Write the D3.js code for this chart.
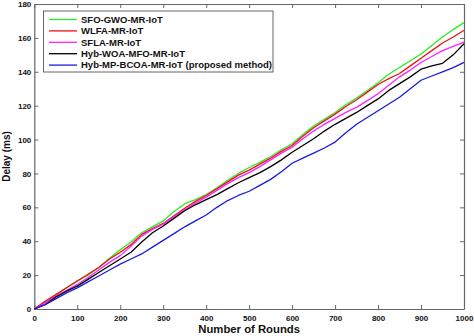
<!DOCTYPE html>
<html>
<head>
<meta charset="utf-8">
<script src="https://cdn.jsdelivr.net/npm/d3@7/dist/d3.min.js"></script>
<style>
  html, body { margin: 0; padding: 0; background: #fff; }
  svg { display: block; font-family: "Liberation Sans", Arial, sans-serif; }
</style>
</head>
<body>
<svg id="chart" width="474" height="336"></svg>
<script>
// ---- Data ----
const rounds = [0,25,50,75,100,125,150,175,200,225,250,275,300,325,350,375,400,425,450,475,500,
                525,550,575,600,625,650,675,700,725,750,775,800,825,850,875,900,925,950,975,1000];

const seriesNames = ["SFO-GWO-MR-IoT", "WLFA-MR-IoT", "SFLA-MR-IoT", "Hyb-WOA-MFO-MR-IoT", "Hyb-MP-BCOA-MR-IoT (proposed method)"];

const sfoGwo = [0,4,8,12.5,16.5,20,24.5,30,35,39.5,45,48.5,52,57.5,62,64.5,67.5,71.5,76,80,83.5,
                86.5,90,94,97.5,103,108,112,116,120.5,124.5,129,133.5,138.5,142.5,146.5,150.5,155.5,160.5,165,169];
const wlfa   = [0,4.5,8.5,12.5,16.5,20.5,24.5,29.5,33.5,38,44,47.5,50.5,55,59.5,63.5,67,71,75,79,82,
                85.5,89,93,96.5,102,107,111,115,119.5,123.5,128,132.5,136,139,143.5,148,152.5,157,160.5,164.5];
const sfla   = [0,3.5,7.5,11,14.5,18.5,23,27.5,31.5,37,43,47,50,54.5,58.5,62.5,66,70,74,77.5,80.5,
                84,88,92,95.5,100.5,105,109,112.5,116,119,123,127,132,137,141,145.5,149,152.5,155,157.5];
const hybWoa = [0,2.5,7,10.5,13.5,17.5,21.5,25.5,29.5,33.5,39.5,45,49,53.5,58,61.5,64.5,67.5,71,74.5,77.5,
                80.5,84,88,92.5,96.5,100.5,105,109,112.5,116,120,124,129,133,137,141.5,143.5,145,150,156.5];
const hybMp  = [0,2.5,6,9.5,12.5,16,19.5,23,26.5,29.5,32.5,36.5,40.5,44.5,48.5,52,55.5,60,64,67,69.5,
                73,76.5,81,86,89,92,95,98.5,104,109,113,117,121,125,130,135,137.5,140,142.5,145.5];

const xTicks = [0,100,200,300,400,500,600,700,800,900,1000];
const yTicks = [0,20,40,60,80,100,120,140,160,180];

const seriesValues = [sfoGwo, wlfa, sfla, hybWoa, hybMp];
const seriesColors = ["#22ee22", "#ee1111", "#ff22ff", "#000000", "#1a1adf"];

// ---- Layout ----
const W = 474, H = 336;
const margin = { left: 34.3, right: 10, top: 4, bottom: 27 };
const svg = d3.select("#chart");
const iw = W - margin.left - margin.right;
const ih = H - margin.top - margin.bottom;

const x = d3.scaleLinear().domain([0, 1000]).range([margin.left, margin.left + iw]);
const y = d3.scaleLinear().domain([0, 180]).range([margin.top + ih, margin.top]);

const frameColor = "#666";
const fmt = d3.format("d");

// axes
const gx = svg.append("g").attr("transform", `translate(0,${margin.top + ih})`)
  .call(d3.axisBottom(x).tickValues(xTicks).tickFormat(fmt).tickSizeInner(-4).tickSizeOuter(0).tickPadding(6));
const gy = svg.append("g").attr("transform", `translate(${margin.left},0)`)
  .call(d3.axisLeft(y).tickValues(yTicks).tickFormat(fmt).tickSizeInner(-4).tickSizeOuter(0).tickPadding(3));
const gt = svg.append("g").attr("transform", `translate(0,${margin.top})`)
  .call(d3.axisTop(x).tickValues(xTicks).tickSizeInner(-4).tickSizeOuter(0).tickFormat(""));
const gr = svg.append("g").attr("transform", `translate(${margin.left + iw},0)`)
  .call(d3.axisRight(y).tickValues(yTicks).tickSizeInner(-4).tickSizeOuter(0).tickFormat(""));

[gx, gy, gt, gr].forEach(g => {
  g.select(".domain").attr("stroke", frameColor).attr("stroke-width", 1.2);
  g.selectAll(".tick line").attr("stroke", frameColor).attr("stroke-width", 1);
  g.selectAll(".tick text").attr("fill", "#111").attr("font-size", "8px").attr("font-weight", "bold");
});

// lines
const line = d3.line().x((d, i) => x(rounds[i])).y(d => y(d));
seriesValues.forEach((vals, k) => {
  svg.append("path")
    .datum(vals)
    .attr("fill", "none")
    .attr("stroke", seriesColors[k])
    .attr("stroke-width", 1.3)
    .attr("stroke-linejoin", "round")
    .attr("d", line);
});

// axis titles
svg.append("text")
  .attr("x", margin.left + iw / 2).attr("y", 333)
  .attr("text-anchor", "middle")
  .attr("font-size", "11.3px").attr("font-weight", "bold").attr("fill", "#111")
  .text("Number of Rounds");
svg.append("text")
  .attr("transform", `translate(10,${margin.top + ih / 2}) rotate(-90)`)
  .attr("text-anchor", "middle")
  .attr("font-size", "10px").attr("font-weight", "bold").attr("fill", "#111")
  .text("Delay (ms)");

// legend
const lg = svg.append("g");
lg.append("rect")
  .attr("x", 43.5).attr("y", 11).attr("width", 229.5).attr("height", 61)
  .attr("fill", "#fff").attr("stroke", frameColor).attr("stroke-width", 1);
seriesNames.forEach((name, k) => {
  const cy = 19.5 + k * 11.4;
  lg.append("line")
    .attr("x1", 49).attr("x2", 77).attr("y1", cy).attr("y2", cy)
    .attr("stroke", seriesColors[k]).attr("stroke-width", 1.3);
  lg.append("text")
    .attr("x", 81).attr("y", cy).attr("dy", "0.35em")
    .attr("font-size", "9.5px").attr("font-weight", "bold").attr("fill", "#111")
    .text(name);
});
</script>
</body>
</html>
